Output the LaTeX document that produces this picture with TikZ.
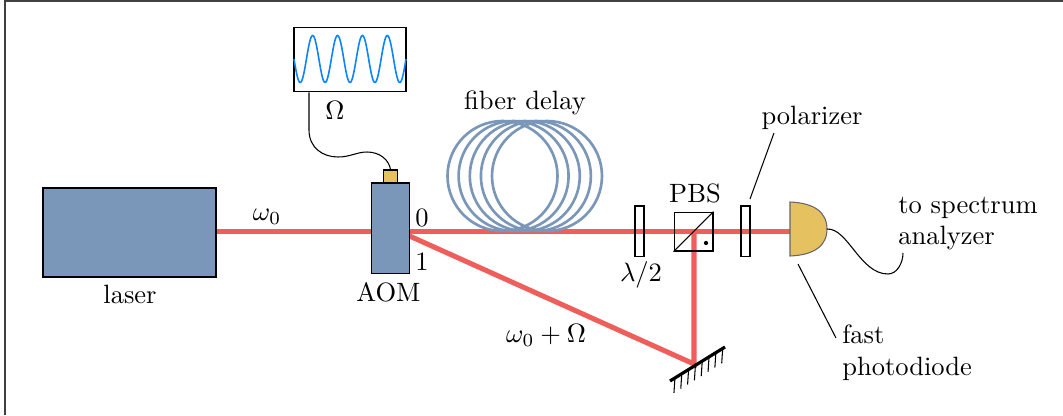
\documentclass[tikz,border=0pt]{standalone}
\usepackage{amsmath}
\usetikzlibrary{positioning, calc}
\usetikzlibrary{backgrounds}
\definecolor{beamred}{HTML}{EE5F5B}
\definecolor{fiberblue}{HTML}{7A96B9}
\definecolor{signalblue}{HTML}{0A84FF}
\definecolor{diodegold}{HTML}{E6C15F}
\tikzset{
    beam/.style={draw=beamred, line width=1.9pt},
    box/.style={draw, fill=fiberblue, line width=0.4pt, inner sep=0pt, minimum width=#1},
    plate/.style={draw, line width=0.4pt, inner sep=0pt, minimum width=3.4pt, minimum height=18.9pt},
    fiberloop/.style={draw=fiberblue, line width=1pt},
    pointer/.style={draw, line width=0.4pt},
    cable/.style={draw, line width=0.4pt},
}
\begin{document}
\begin{tikzpicture}[x=0.3775pt, y=-0.3775pt]
    \useasboundingbox (0,0) rectangle (1063,415);
    \draw[line width=0.6pt, black!75] (5,415) -- (5,1) -- (1063,1);
    \node (laser) [box=65.3pt, minimum height=33.6pt] at (129.5,232.5) {};
    \node (laserlabel) at (130,294) {laser};
    \node (aom) [box=14pt, minimum height=34pt] at (390.5,228) {};
    \node (aomlabel) at (388.5,292) {AOM};
    \node (cap) [draw, fill=diodegold, inner sep=0pt, minimum width=5.3pt, minimum height=4.9pt, anchor=south] at (390.5,183.5) {};
    \node at (422,218) (port0) {0};
    \node at (422,262) (port1) {1};
    \node (gen) [draw, fill=white, line width=0.4pt, inner sep=0pt, minimum width=42.3pt, minimum height=24.5pt] at (350,59.5) {};
    \draw[signalblue, line width=0.6pt] plot[domain=0:1620, samples=150, smooth] ({294+\x*0.06914}, {59+23.5*sin(\x)});
    \node (omega) at (335,110) {$\Omega$};
    \node (fiber) at (525,103) {fiber delay};
    \node (halfwave) [plate] at (639.5,231) {};
    \node (halfwavelabel) at (641,275) {$\lambda/2$};
    \node (pbs) [draw, line width=0.4pt, inner sep=0pt, minimum size=14.7pt] at (693.5,231.5) {};
    \node (pbslabel) at (695,193) {PBS};
    \node (pol) [plate] at (745.5,231) {};
    \node (pollabel) at (812,118) {polarizer};
    \node (mirror) [coordinate] at (694,364) {};
    \coordinate (mirrorl) at (670,381);
    \coordinate (mirrorr) at (725,347);
    \coordinate (det) at (790,231);
    \coordinate (detout) at (827,229);
    \node (detlabel) [align=left, anchor=west] at (833,352.5) {fast\\photodiode};
    \node (speclabel) [align=left, anchor=west] at (889,223.5) {to spectrum\\analyzer};
    \node (omega0) at (267,217) {$\omega_0$};
    \node (omegas) at (546,335) {$\omega_0 + \Omega$};
    \begin{pgfonlayer}{background}
        \draw[beam] (laser.east |- pbs) -- (det |- pbs);
        \draw[beam] (aom.east |- 0,236) -- (mirror) -- (mirror |- pbs);
    \end{pgfonlayer}
    \foreach \cx in {502.5,513.6,524.8,535.9,547}
        \draw[fiberloop] (\cx,176) circle [radius=55];
    \draw[line width=0.4pt] (pbs.south west) -- (pbs.north east);
    \fill (706,243) circle [radius=0.8pt];
    \draw[line width=1.2pt] (mirrorl) -- (mirrorr);
    \foreach \t in {0.09,0.214,0.338,0.462,0.586,0.71,0.834,0.958}
        \draw[line width=0.4pt] ($(mirrorl)!\t!(mirrorr)$) -- ++(-1,15);
    \draw[draw=black!60, fill=diodegold, line width=0.4pt] (790,202) .. controls (814,203) and (827,212) .. (detout) .. controls (827,246) and (814,255) .. (790,256) -- cycle;
    \draw[cable] (gen.south -| 309,0) -- (309,130) .. controls (309,148) and (323,157) .. (338,157) .. controls (350,157) and (357,152) .. (367,152) .. controls (380,152) and (389,160) .. (cap.north);
    \draw[cable] (detout) .. controls (848,228) and (860,274) .. (888,274) .. controls (897,274) and (903,263) .. (903,253);
    \draw[pointer] (774,133) -- (750,199);
    \draw[pointer] (798,264) -- (836,338);
\end{tikzpicture}
\end{document}
